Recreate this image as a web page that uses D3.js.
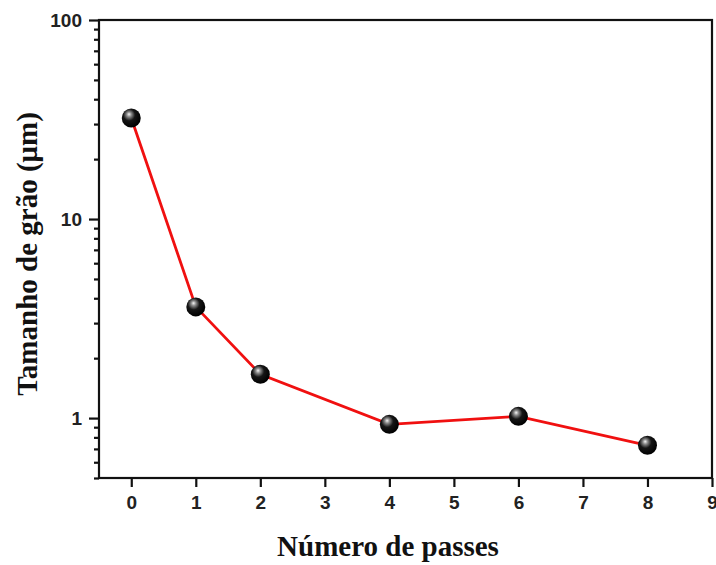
<!DOCTYPE html>
<html>
<head>
<meta charset="utf-8">
<script src="https://cdn.jsdelivr.net/npm/d3@7"></script>
<style>
	body{margin:0;background:#fff;}
</style>
</head>
<body>
<svg id="chart" width="716" height="565"></svg>
<script>
// data
var passes = [0, 1, 2, 4, 6, 8];
var grainSize = [32.2, 3.62, 1.66, 0.93, 1.02, 0.73];
var xTicks = [0, 1, 2, 3, 4, 5, 6, 7, 8, 9];
var yMajor = [1, 10, 100];

var margin = {left:99, right:4, top:20, bottom:87};
var W = 716, H = 565;
var tickFont = 'Liberation Sans, Arial, sans-serif';
var titleFont = 'Liberation Serif, Times New Roman, serif';

var svg = d3.select('#chart');

var x = d3.scaleLinear().domain([-0.5, 9]).range([margin.left, W - margin.right]);
var y = d3.scaleLog().domain([0.5, 100]).range([H - margin.bottom, margin.top]);

// ball gradient
var defs = svg.append('defs');
var grad = defs.append('radialGradient')
	.attr('id','ball').attr('cx','40%').attr('cy','38%').attr('r','62%').attr('fx','38%').attr('fy','30%');
grad.append('stop').attr('offset','0%').attr('stop-color','#f6f6f6');
grad.append('stop').attr('offset','20%').attr('stop-color','#8c8c8c');
grad.append('stop').attr('offset','50%').attr('stop-color','#161616');
grad.append('stop').attr('offset','100%').attr('stop-color','#000');

// frame
svg.append('rect')
	.attr('x', x(-0.5)).attr('y', y(100))
	.attr('width', x(9) - x(-0.5)).attr('height', y(0.5) - y(100))
	.attr('fill','none').attr('stroke','#111').attr('stroke-width',2.2);

function styleAxis(g){
	g.attr('font-size', 19).attr('font-family', tickFont).attr('font-weight', 'bold');
	g.select('.domain').remove();
	g.selectAll('.tick line').attr('stroke','#111').attr('stroke-width',2.2);
	g.selectAll('.tick text').attr('fill','#222');
}

// x axis
var xAxis = svg.append('g')
	.attr('transform','translate(0,' + y(0.5) + ')')
	.call(d3.axisBottom(x).tickValues(xTicks).tickSize(9).tickPadding(9).tickFormat(d3.format('d')));
styleAxis(xAxis);

// y axis minor ticks
var minor = [];
[0.1, 1, 10].forEach(function(dec){
	for(var k=2;k<=9;k++){
		var v = k*dec;
		if(v >= 0.5 && v < 100) minor.push(v);
	}
});
var yMinor = svg.append('g')
	.attr('transform','translate(' + x(-0.5) + ',0)')
	.call(d3.axisLeft(y).tickValues(minor).tickSize(5).tickFormat(''));
styleAxis(yMinor);

var yAxis = svg.append('g')
	.attr('transform','translate(' + x(-0.5) + ',0)')
	.call(d3.axisLeft(y).tickValues(yMajor).tickSize(10).tickPadding(7).tickFormat(d3.format('d')));
styleAxis(yAxis);

// series
var pts = passes.map(function(p,i){ return [p, grainSize[i]]; });
var line = d3.line()
	.x(function(d){ return x(d[0]); })
	.y(function(d){ return y(d[1]); });

svg.append('path')
	.datum(pts)
	.attr('d', line)
	.attr('fill','none')
	.attr('stroke','#f01010')
	.attr('stroke-width',2.8);

svg.selectAll('.ball')
	.data(pts)
	.enter()
		.append('circle')
		.attr('class','ball')
		.attr('cx', function(d){ return x(d[0]); })
		.attr('cy', function(d){ return y(d[1]); })
		.attr('r', 9.5)
		.attr('fill','url(#ball)');

// titles
svg.append('text')
	.attr('x', 388).attr('y', 556)
	.attr('text-anchor','middle')
	.attr('font-family', titleFont).attr('font-weight','bold').attr('font-size',29).attr('fill','#111')
	.text('Número de passes');

svg.append('text')
	.attr('transform','translate(37,254) rotate(-90)')
	.attr('text-anchor','middle')
	.attr('font-family', titleFont).attr('font-weight','bold').attr('font-size',29).attr('fill','#111')
	.text('Tamanho de grão (μm)');
</script>
</body>
</html>
